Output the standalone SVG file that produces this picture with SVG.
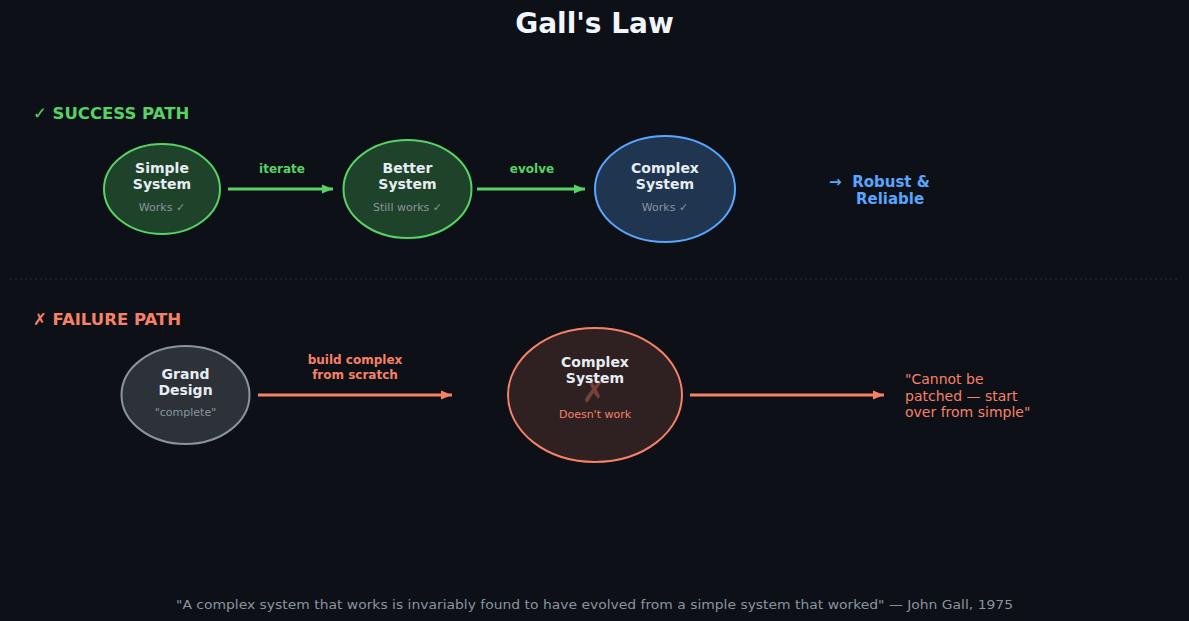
<svg xmlns="http://www.w3.org/2000/svg" width="1189" height="621" viewBox="0 0 1189 621">
<defs>
<marker id="ag" markerWidth="12" markerHeight="12" refX="11" refY="5" orient="auto" markerUnits="userSpaceOnUse"><path d="M0,0.5 L11,5 L0,9.5 Z" fill="#56d364"/></marker>
<marker id="ar" markerWidth="12" markerHeight="12" refX="11" refY="5" orient="auto" markerUnits="userSpaceOnUse"><path d="M0,0.5 L11,5 L0,9.5 Z" fill="#f78166"/></marker>
</defs>
<style>
text{font-family:"DejaVu Sans","Noto Sans",sans-serif}
.t{fill:#e6edf3;font-weight:bold;font-size:14px;text-anchor:middle}
.s{fill:#8b949e;font-size:11px;text-anchor:middle}
.lg{fill:#56d364;font-weight:bold;font-size:12px;text-anchor:middle}
.lr{fill:#f78166;font-weight:bold;font-size:12px;text-anchor:middle}
.cg{stroke:#56d364;stroke-width:3;fill:none}
.cr{stroke:#f78166;stroke-width:3;fill:none}
</style>
<rect width="1189" height="621" fill="#0d1017"/>
<text x="594.5" y="33" style="fill:#f0f6fc;font-weight:bold;font-size:28px;text-anchor:middle">Gall's Law</text>
<text x="33" y="119" style="fill:#56d364;font-weight:bold;font-size:16.5px">✓ SUCCESS PATH</text>
<text x="33" y="325" style="fill:#f78166;font-weight:bold;font-size:16.5px">✗ FAILURE PATH</text>
<line x1="10" y1="279" x2="1179" y2="279" stroke="#2d333b" stroke-width="1" stroke-dasharray="2,3"/>
<g id="connectors">
<line class="cg" x1="228" y1="189" x2="333" y2="189" marker-end="url(#ag)"/>
<text class="lg" x="282" y="173">iterate</text>
<line class="cg" x1="477" y1="189" x2="585" y2="189" marker-end="url(#ag)"/>
<text class="lg" x="532" y="173">evolve</text>
<line class="cr" x1="258" y1="395" x2="452" y2="395" marker-end="url(#ar)"/>
<text class="lr" x="355" y="364">build complex</text>
<text class="lr" x="355" y="379">from scratch</text>
<line class="cr" x1="690" y1="395" x2="884" y2="395" marker-end="url(#ar)"/>
</g>
<g id="simple">
<ellipse cx="162" cy="189" rx="58" ry="45" fill="#1f432a" stroke="#56d364" stroke-width="2"/>
<text class="t" x="162" y="173">Simple</text>
<text class="t" x="162" y="189">System</text>
<text class="s" x="162" y="211">Works ✓</text>
</g>
<g id="better">
<ellipse cx="407.5" cy="189" rx="64" ry="49" fill="#1f432a" stroke="#56d364" stroke-width="2"/>
<text class="t" x="407.5" y="173">Better</text>
<text class="t" x="407.5" y="189">System</text>
<text class="s" x="407.5" y="211">Still works ✓</text>
</g>
<g id="complex-ok">
<ellipse cx="665" cy="189" rx="70" ry="53" fill="#1f3550" stroke="#58a6ff" stroke-width="2"/>
<text class="t" x="665" y="173">Complex</text>
<text class="t" x="665" y="189">System</text>
<text class="s" x="665" y="211">Works ✓</text>
</g>
<g id="robust">
<text x="829" y="187" style="fill:#58a6ff;font-weight:bold;font-size:15px">→</text>
<text x="891" y="187" style="fill:#58a6ff;font-weight:bold;font-size:15px;text-anchor:middle">Robust &amp;</text>
<text x="890" y="204" style="fill:#58a6ff;font-weight:bold;font-size:15px;text-anchor:middle">Reliable</text>
</g>
<g id="grand">
<ellipse cx="185.5" cy="395" rx="64" ry="49" fill="#2d3239" stroke="#8b949e" stroke-width="2"/>
<text class="t" x="185.5" y="379">Grand</text>
<text class="t" x="185.5" y="395">Design</text>
<text class="s" x="185.5" y="416">"complete"</text>
</g>
<g id="complex-fail">
<ellipse cx="595" cy="395" rx="87" ry="67" fill="#2f2022" stroke="#f78166" stroke-width="2"/>
<text x="594" y="402" style="fill:#f78166;opacity:0.35;font-size:30px;text-anchor:middle">✗</text>
<text class="t" x="595" y="367">Complex</text>
<text class="t" x="595" y="383">System</text>
<text x="595" y="418" style="fill:#f78166;font-size:11px;text-anchor:middle">Doesn't work</text>
</g>
<g id="note">
<text x="905" y="384" style="fill:#f78166;font-size:14px">"Cannot be</text>
<text x="905" y="401" style="fill:#f78166;font-size:14px">patched — start</text>
<text x="905" y="417" style="fill:#f78166;font-size:14px">over from simple"</text>
</g>
<text x="594.5" y="609" textLength="837" lengthAdjust="spacingAndGlyphs" style="fill:#8b949e;font-size:13px;text-anchor:middle">"A complex system that works is invariably found to have evolved from a simple system that worked" — John Gall, 1975</text>
</svg>
